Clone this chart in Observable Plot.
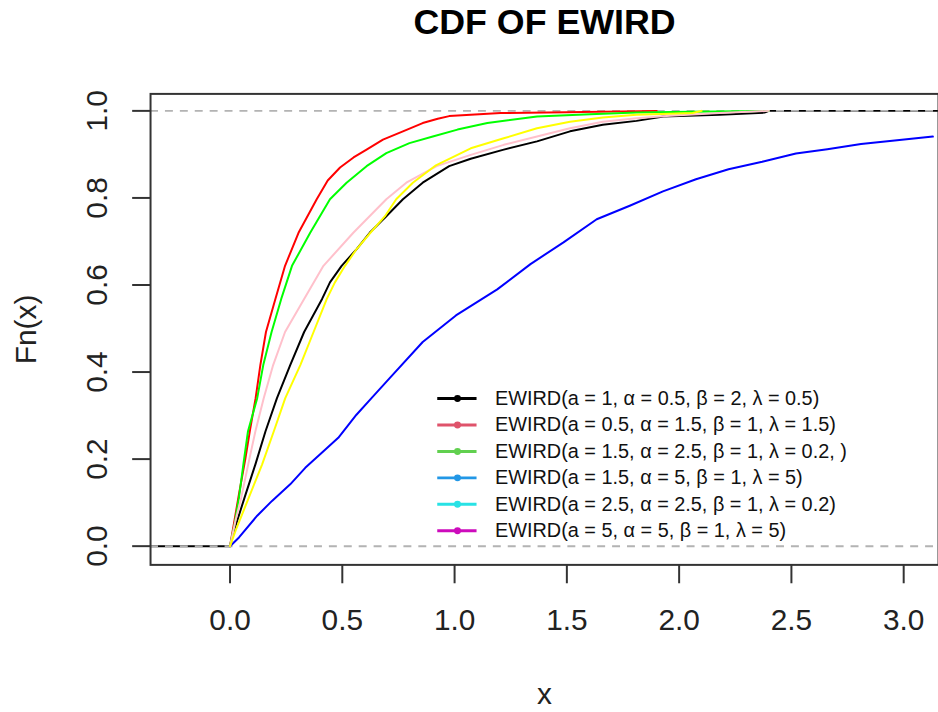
<!DOCTYPE html>
<html>
<head>
<meta charset="utf-8">
<script src="https://cdn.jsdelivr.net/npm/d3@7"></script>
<script src="https://cdn.jsdelivr.net/npm/@observablehq/plot@0.6"></script>
<style>
  html, body { margin: 0; padding: 0; background: white; overflow: hidden; }
  #chart { width: 938px; height: 712px; overflow: hidden; }
</style>
</head>
<body>
<div id="chart"></div>
<script>
// ---- data ----
const title = "CDF OF EWIRD";
const xLabel = "x";
const yLabel = "Fn(x)";
const xTicks = [0, 0.5, 1, 1.5, 2, 2.5, 3];
const yTicks = [0, 0.2, 0.4, 0.6, 0.8, 1];

// empirical CDF curves: [x, Fn(x)]
const ecdfBlack = [[0,0],[0.018,0.036],[0.065,0.112],[0.113,0.188],[0.158,0.264],[0.209,0.34],[0.268,0.416],[0.33,0.492],[0.37,0.53],[0.41,0.568],[0.445,0.606],[0.497,0.644],[0.563,0.682],[0.622,0.72],[0.696,0.758],[0.77,0.797],[0.858,0.835],[0.976,0.873],[1.072,0.89],[1.219,0.911],[1.367,0.93],[1.514,0.953],[1.66,0.968],[1.81,0.977],[1.93,0.987],[2.18,0.991],[2.38,0.996],[2.4,1]];
const ecdfRed = [[0,0],[0.02,0.06],[0.04,0.12],[0.068,0.2],[0.09,0.27],[0.114,0.34],[0.135,0.416],[0.16,0.492],[0.202,0.568],[0.245,0.644],[0.305,0.72],[0.386,0.797],[0.435,0.84],[0.49,0.87],[0.55,0.893],[0.608,0.911],[0.681,0.934],[0.77,0.953],[0.858,0.972],[0.925,0.982],[0.976,0.988],[1.205,0.995],[1.5,0.997],[1.9,1]];
const ecdfGreen = [[0,0],[0.02,0.05],[0.04,0.112],[0.06,0.19],[0.08,0.264],[0.121,0.34],[0.148,0.416],[0.185,0.492],[0.228,0.568],[0.276,0.644],[0.357,0.72],[0.445,0.797],[0.519,0.835],[0.608,0.873],[0.696,0.903],[0.799,0.926],[0.903,0.941],[1.013,0.957],[1.146,0.972],[1.367,0.987],[1.603,0.992],[1.81,0.996],[2.05,0.998],[2.4,1]];
const ecdfBlue = [[0,0],[0.04,0.02],[0.121,0.07],[0.187,0.104],[0.268,0.142],[0.335,0.18],[0.416,0.218],[0.482,0.249],[0.563,0.302],[0.63,0.34],[0.711,0.386],[0.858,0.469],[1.006,0.53],[1.19,0.59],[1.338,0.648],[1.485,0.698],[1.633,0.751],[1.78,0.782],[1.928,0.815],[2.075,0.843],[2.22,0.866],[2.37,0.883],[2.52,0.902],[2.66,0.912],[2.81,0.924],[2.96,0.932],[3.13,0.941]];
const ecdfPink = [[0,0],[0.025,0.06],[0.05,0.112],[0.086,0.2],[0.113,0.264],[0.15,0.34],[0.192,0.416],[0.245,0.492],[0.33,0.568],[0.416,0.644],[0.549,0.72],[0.696,0.797],[0.785,0.835],[0.92,0.873],[1.072,0.899],[1.219,0.922],[1.367,0.941],[1.514,0.96],[1.66,0.975],[1.81,0.983],[1.96,0.989],[2.18,0.995],[2.4,1]];
const ecdfYellow = [[0,0],[0.025,0.036],[0.084,0.112],[0.143,0.188],[0.195,0.264],[0.246,0.34],[0.313,0.416],[0.372,0.492],[0.431,0.568],[0.467,0.606],[0.512,0.644],[0.563,0.682],[0.625,0.72],[0.69,0.758],[0.74,0.797],[0.814,0.835],[0.917,0.875],[1.072,0.914],[1.219,0.937],[1.367,0.96],[1.514,0.975],[1.66,0.985],[1.81,0.991],[2.06,0.995],[2.1,1]];

const curveColors = ["black", "red", "#00ff00", "blue", "#ffc0cb", "#ffff00"];

const legendLabels = [
  "EWIRD(a = 1, α = 0.5, β = 2, λ = 0.5)",
  "EWIRD(a = 0.5, α = 1.5, β = 1, λ = 1.5)",
  "EWIRD(a = 1.5, α = 2.5, β = 1, λ = 0.2, )",
  "EWIRD(a = 1.5, α = 5, β = 1, λ = 5)",
  "EWIRD(a = 2.5, α = 2.5, β = 1, λ = 0.2)",
  "EWIRD(a = 5, α = 5, β = 1, λ = 5)"
];
const legendColors = ["black", "#DF536B", "#61D04F", "#2297E6", "#28E2E5", "#CD0BBC"];

// ---- layout ----
const W = 944, H = 712;
const mL = 151, mR = 0, mT = 94, mB = 144;
const xMin = -0.354, xMax = 3.155;
const yDom = [-0.043, 1.039];
const font = "'Liberation Sans', Arial, Helvetica, sans-serif";

const blackFull = [[xMin, 0], ...ecdfBlack, [xMax, 1]];
const others = [ecdfRed, ecdfGreen, ecdfBlue, ecdfPink, ecdfYellow];

// legend placement (data units)
const legTop = 0.339, legStep = 0.0607;
const legRows = legendLabels.map((label, i) => ({label, color: legendColors[i], ly: legTop - i * legStep}));

const marks = [];
marks.push(Plot.line(blackFull, {x: d => d[0], y: d => d[1], stroke: curveColors[0], strokeWidth: 2}));
marks.push(Plot.ruleY([0, 1], {stroke: "#b3b3b3", strokeWidth: 2, strokeDasharray: "8,7"}));
others.forEach((s, i) => {
  marks.push(Plot.line(s, {x: d => d[0], y: d => d[1], stroke: curveColors[i + 1], strokeWidth: 2}));
});
legRows.forEach(r => {
  marks.push(Plot.ruleY([r], {y: "ly", x1: () => 0.925, x2: () => 1.10, stroke: r.color, strokeWidth: 3}));
  marks.push(Plot.dot([r], {y: "ly", x: () => 1.013, r: 3.5, fill: r.color, stroke: null}));
  marks.push(Plot.text([r], {y: "ly", x: () => 1.18, text: "label", textAnchor: "start", lineAnchor: "middle", fontSize: 20, fill: "#111"}));
});
marks.push(Plot.frame({stroke: "#333", strokeWidth: 2}));
marks.push(Plot.axisX({ticks: xTicks, tickSize: 19, tickPadding: 25, tickFormat: d3.format(".1f"), fontSize: 30, label: null, stroke: "#333", strokeWidth: 2, fill: "#222"}));
marks.push(Plot.axisY({ticks: yTicks, tickSize: 18, tickFormat: () => "", label: null, stroke: "#333", strokeWidth: 2}));
marks.push(Plot.text(yTicks, {y: d => d, text: d => d3.format(".1f")(d), frameAnchor: "left", dx: -44, rotate: -90, textAnchor: "middle", lineAnchor: "bottom", fontSize: 30, fill: "#222"}));
marks.push(Plot.text([yLabel], {text: d => d, frameAnchor: "left", dx: -115, rotate: -90, textAnchor: "middle", lineAnchor: "bottom", fontSize: 30, fill: "#222"}));
marks.push(Plot.text([xLabel], {text: d => d, frameAnchor: "bottom", dy: 140, lineAnchor: "bottom", fontSize: 30, fill: "#222"}));
marks.push(Plot.text([title], {text: d => d, frameAnchor: "top", dy: -60, lineAnchor: "bottom", fontSize: 36, fontWeight: "bold", fill: "#000"}));

const chart = Plot.plot({
  width: W, height: H,
  marginLeft: mL, marginRight: mR, marginTop: mT, marginBottom: mB,
  x: {domain: [xMin, xMax]},
  y: {domain: yDom},
  style: {fontFamily: font, background: "white", color: "#222", overflow: "visible"},
  marks
});
document.getElementById("chart").appendChild(chart);
</script>
</body>
</html>
